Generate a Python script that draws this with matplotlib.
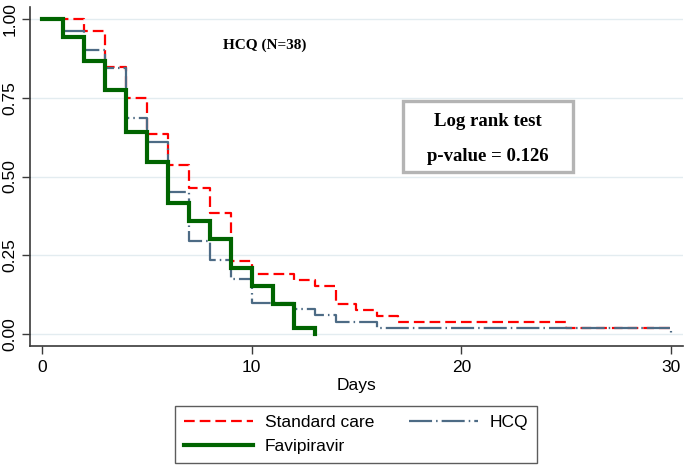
import matplotlib
matplotlib.use("Agg")
import matplotlib.pyplot as plt
from matplotlib.lines import Line2D

# ---- data ----
sc_days = [0, 2, 3, 4, 5, 6, 7, 8, 9, 10, 12, 13, 14, 15, 16, 17, 25, 30]
sc_surv = [1.0, 0.962, 0.846, 0.750, 0.635, 0.538, 0.462, 0.385, 0.231, 0.192,
           0.173, 0.154, 0.096, 0.077, 0.058, 0.038, 0.019, 0.019]

hcq_days = [0, 1, 2, 3, 4, 5, 6, 7, 8, 9, 10, 12, 13, 14, 16, 30]
hcq_surv = [1.0, 0.961, 0.902, 0.843, 0.686, 0.608, 0.451, 0.294, 0.235, 0.176,
            0.098, 0.078, 0.059, 0.039, 0.020, 0.0]

fav_days = [0, 1, 2, 3, 4, 5, 6, 7, 8, 9, 10, 11, 12, 13]
fav_surv = [1.0, 0.943, 0.868, 0.774, 0.642, 0.547, 0.415, 0.358, 0.302, 0.208,
            0.151, 0.094, 0.019, 0.0]

x_ticks = [0, 10, 20, 30]
y_ticks = [0.0, 0.25, 0.50, 0.75, 1.00]
y_tick_labels = ["0.00", "0.25", "0.50", "0.75", "1.00"]
series_labels = ["Standard care", "HCQ", "Favipiravir"]
annot_title = "HCQ (N=38)"
box_lines = ["Log rank test", "p-value = 0.126"]

# ---- style ----
plt.rcParams["font.family"] = ["Liberation Sans", "DejaVu Sans"]
plt.rcParams["lines.scale_dashes"] = False

RED = "#ff0000"
SLATE = "#4d6b85"
GREEN = "#006400"
SPINE = "#3a3a3a"

fig = plt.figure(figsize=(6.85, 4.68), dpi=100)
ax = fig.add_axes([30 / 685, 1 - 346 / 468, (683 - 30) / 685, (346 - 7) / 468])

for yv in y_ticks:
    ax.axhline(yv, color="#e3ecf0", lw=1.0, zorder=0)

ax.step(sc_days, sc_surv, where="post", color=RED, lw=1.6,
        dashes=(7.7, 3.6), zorder=2)
ax.step(hcq_days, hcq_surv, where="post", color=SLATE, lw=1.6,
        dashes=(16.6, 2.9, 1.1, 2.9), zorder=3)
ax.step(fav_days, fav_surv, where="post", color=GREEN, lw=3.0,
        zorder=4, solid_joinstyle="miter")

ax.set_xlim(-0.57, 30.57)
ax.set_ylim(-0.038, 1.038)
ax.set_xticks(x_ticks)
ax.set_yticks(y_ticks)
ax.set_yticklabels(y_tick_labels, rotation=90, va="center")
ax.tick_params(axis="both", direction="out", length=6, width=1.0,
               color=SPINE, labelsize=12.5, labelcolor="black")
ax.tick_params(axis="y", pad=3)
ax.tick_params(axis="x", pad=4)
for s in ["top", "right"]:
    ax.spines[s].set_visible(False)
for s in ["left", "bottom"]:
    ax.spines[s].set_color(SPINE)
    ax.spines[s].set_linewidth(1.2)

ax.set_xlabel("Days", fontsize=12.5, labelpad=2)

# annotations
ax.text(10.6, 0.917, annot_title, ha="center", va="center",
        fontsize=11, fontweight="bold", family="Liberation Serif")

bx0, bx1 = (403 - 42) / 20.97, (573 - 42) / 20.97
by0, by1 = (334 - 172) / 315, (334 - 101) / 315
ax.add_patch(plt.Rectangle((bx0, by0), bx1 - bx0, by1 - by0, fill=True,
                           facecolor="white", edgecolor="#b4b4b4", lw=2.4,
                           zorder=5))
ax.text((bx0 + bx1) / 2, (334 - 122) / 315, box_lines[0], ha="center",
        va="center", fontsize=13.5, fontweight="bold",
        family="Liberation Serif", zorder=6)
ax.text((bx0 + bx1) / 2, (334 - 157) / 315, box_lines[1], ha="center",
        va="center", fontsize=13.5, fontweight="bold",
        family="Liberation Serif", zorder=6)

# legend
handles = [
    Line2D([], [], color=RED, lw=1.6, dashes=(7.7, 3.6)),
    Line2D([], [], color=GREEN, lw=3.0),
    Line2D([], [], color=SLATE, lw=1.6, dashes=(16.6, 2.9, 1.1, 2.9)),
]
labels = [series_labels[0], series_labels[2], series_labels[1]]
leg = fig.legend(handles, labels, loc="center",
                 bbox_to_anchor=(356 / 685, 1 - 434.5 / 468), ncol=2,
                 fontsize=12.5, frameon=True, fancybox=False,
                 edgecolor="#333333", handlelength=4.0, handletextpad=0.65,
                 columnspacing=2.0, labelspacing=0.55, borderpad=0.5,
                 borderaxespad=0)
leg.get_frame().set_linewidth(1.0)

fig.savefig("out.png", dpi=100)
